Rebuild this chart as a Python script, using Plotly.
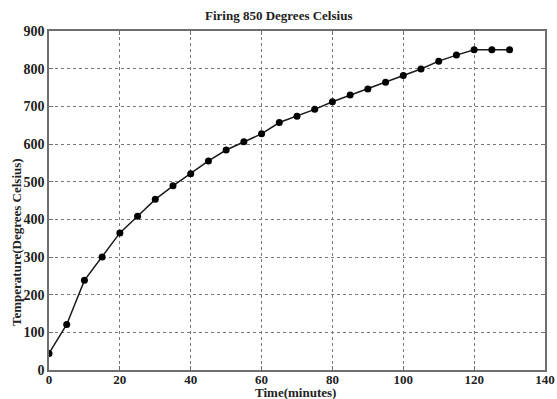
import plotly.graph_objects as go

time_min = [0, 5, 10, 15, 20, 25, 30, 35, 40, 45, 50, 55, 60, 65, 70, 75, 80, 85, 90, 95, 100, 105, 110, 115, 120, 125, 130]
temperature = [44, 121, 238, 300, 364, 408, 453, 489, 521, 555, 584, 606, 627, 657, 674, 692, 712, 730, 746, 764, 782, 799, 820, 836, 850, 850, 850]

x_ticks = [0, 20, 40, 60, 80, 100, 120, 140]
y_ticks = [0, 100, 200, 300, 400, 500, 600, 700, 800, 900]

FONT = "Liberation Serif"
TXT = "#222222"
W, H = 557, 399
L, R, T, B = 49, 12, 31, 29


def fx(px):
    return (px - L) / (W - L - R)


def fy(py):
    return (H - py - B) / (H - T - B)


fig = go.Figure()
fig.add_trace(go.Scatter(
    x=time_min, y=temperature, mode="lines+markers",
    line=dict(color="#1a1a1a", width=1.5),
    marker=dict(color="black", size=7, symbol="circle"),
    showlegend=False,
))

axis_common = dict(
    showgrid=True, gridcolor="#7a7a7a", griddash="dot", gridwidth=1,
    showline=True, linecolor="#6e6e6e", linewidth=1.5, mirror="ticks",
    ticks="inside", ticklen=4, tickcolor="#6e6e6e",
    zeroline=False, automargin=False,
)

fig.update_layout(
    width=W, height=H,
    margin=dict(l=L, r=R, t=T, b=B),
    paper_bgcolor="white", plot_bgcolor="white",
    xaxis=dict(range=[0, 140], tickvals=x_ticks, ticklabelstandoff=-3,
               tickfont=dict(family=FONT, size=13, color=TXT, weight="bold"),
               **axis_common),
    yaxis=dict(range=[0, 900], tickvals=y_ticks,
               tickfont=dict(family=FONT, size=14, color=TXT, weight="bold"),
               **axis_common),
    annotations=[
        dict(text="Firing 850 Degrees Celsius", xref="paper", yref="paper",
             x=fx(278), y=fy(16), xanchor="center", yanchor="middle", showarrow=False,
             font=dict(family=FONT, size=13, color=TXT, weight="bold")),
        dict(text="Time(minutes)", xref="paper", yref="paper",
             x=fx(295), y=fy(392), xanchor="center", yanchor="middle", showarrow=False,
             font=dict(family=FONT, size=13, color=TXT, weight="bold")),
        dict(text="Temperature(Degrees Celsius)", xref="paper", yref="paper",
             x=fx(16), y=fy(242), xanchor="center", yanchor="middle", showarrow=False,
             textangle=-90,
             font=dict(family=FONT, size=13, color=TXT, weight="bold")),
    ],
)

fig.write_html(
    "out.html",
    config={"displayModeBar": False},
    post_script="document.body.style.margin='0';document.body.style.overflow='hidden';",
)
